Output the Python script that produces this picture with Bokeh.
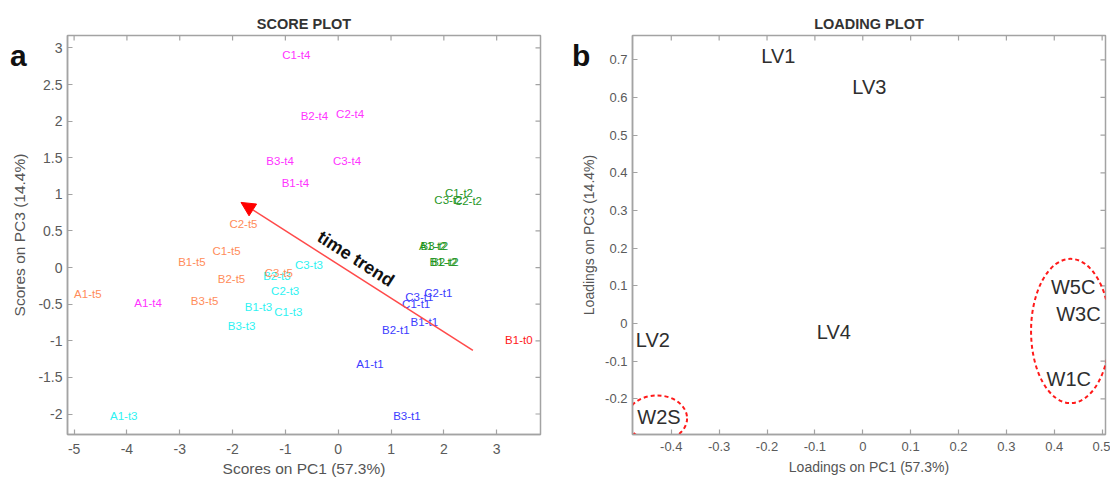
import math
from bokeh.plotting import figure
from bokeh.layouts import row
from bokeh.models import (ColumnDataSource, Label, Div, FixedTicker,
                          Arrow, NormalHead, Range1d)
from bokeh.core.properties import value
from bokeh.embed import file_html
from bokeh.resources import INLINE

FONT = "Liberation Sans"

# ---------------- data: score plot ----------------
score_labels = [
    "B1-t0",
    "A1-t1", "B1-t1", "B2-t1", "B3-t1", "C1-t1", "C2-t1", "C3-t1",
    "A1-t2", "B1-t2", "B2-t2", "B3-t2", "C1-t2", "C2-t2", "C3-t2",
    "A1-t3", "B1-t3", "B2-t3", "B3-t3", "C1-t3", "C2-t3", "C3-t3",
    "A1-t4", "B1-t4", "B2-t4", "B3-t4", "C1-t4", "C2-t4", "C3-t4",
    "A1-t5", "B1-t5", "B2-t5", "B3-t5", "C1-t5", "C2-t5", "C3-t5",
]
score_pc1 = [
    3.16,
    0.34, 1.37, 0.83, 1.04, 1.21, 1.63, 1.27,
    1.53, 1.73, 1.76, 1.56, 2.02, 2.19, 1.82,
    -4.32, -1.77, -1.42, -2.09, -1.21, -1.27, -0.82,
    -3.86, -1.07, -0.71, -1.36, -1.06, -0.04, -0.10,
    -5.00, -3.03, -2.28, -2.79, -2.38, -2.06, -1.39,
]
score_pc3 = [
    -0.99,
    -1.32, -0.74, -0.85, -2.03, -0.50, -0.35, -0.40,
    0.30, 0.08, 0.08, 0.30, 1.02, 0.91, 0.92,
    -2.03, -0.54, -0.11, -0.80, -0.60, -0.32, 0.04,
    -0.48, 1.16, 2.07, 1.46, 2.91, 2.10, 1.46,
    -0.36, 0.08, -0.15, -0.45, 0.23, 0.60, -0.07,
]
time_colors = {"t0": "#ff1a1a", "t1": "#3c3cff", "t2": "#1f961f",
               "t3": "#2ef2f2", "t4": "#ff33ff", "t5": "#ff8c5a"}
score_xticks = [-5, -4, -3, -2, -1, 0, 1, 2, 3]
score_xticklabels = ["-5", "-4", "-3", "-2", "-1", "0", "1", "2", "3"]
score_yticks = [-2, -1.5, -1, -0.5, 0, 0.5, 1, 1.5, 2, 2.5, 3]
score_yticklabels = ["-2", "-1.5", "-1", "-0.5", "0", "0.5", "1", "1.5", "2", "2.5", "3"]
trend_x = [2.55, -1.84]
trend_y = [-1.13, 0.89]
trend_text_pos = [0.335, 0.12]

# ---------------- data: loading plot ----------------
loading_labels = ["LV1", "LV3", "LV2", "LV4", "W5C", "W3C", "W1C", "W2S"]
loading_pc1 = [-0.212, -0.022, -0.474, -0.096, 0.393, 0.404, 0.384, -0.471]
loading_pc3 = [0.711, 0.629, -0.045, -0.023, 0.098, 0.026, -0.147, -0.249]
ellipse_x = [0.434, -0.430]
ellipse_y = [-0.020, -0.252]
ellipse_w = [0.165, 0.126]
ellipse_h = [0.383, 0.122]
load_xticks = [-0.4, -0.3, -0.2, -0.1, 0, 0.1, 0.2, 0.3, 0.4, 0.5]
load_xticklabels = ["-0.4", "-0.3", "-0.2", "-0.1", "0", "0.1", "0.2", "0.3", "0.4", "0.5"]
load_yticks = [-0.2, -0.1, 0, 0.1, 0.2, 0.3, 0.4, 0.5, 0.6, 0.7]
load_yticklabels = ["-0.2", "-0.1", "0", "0.1", "0.2", "0.3", "0.4", "0.5", "0.6", "0.7"]

FRAME_COL = "#a3a3a3"
TICK_COL = "#5a5a5a"
LABEL_COL = "#555555"


def style_axes(p, xr, yr, xticks, xlabels, yticks, ylabels, fs, xstand, ystand,
               xtitle, ytitle, tfs, xlstand, ylstand, title):
    p.xaxis.ticker = FixedTicker(ticks=xticks)
    p.yaxis.ticker = FixedTicker(ticks=yticks)
    p.xaxis.major_label_overrides = dict(zip(xticks, xlabels))
    p.yaxis.major_label_overrides = dict(zip(yticks, ylabels))
    for ax in (p.xaxis[0], p.yaxis[0]):
        ax.major_tick_in = 5
        ax.major_tick_out = 0
        ax.minor_tick_line_color = None
        ax.major_tick_line_color = FRAME_COL
        ax.major_tick_line_width = 1.2
        ax.axis_line_color = FRAME_COL
        ax.axis_line_width = 1.5
        ax.major_label_text_font = FONT
        ax.major_label_text_font_size = fs
        ax.major_label_text_color = TICK_COL
        ax.axis_label_text_font = FONT
        ax.axis_label_text_font_size = tfs
        ax.axis_label_text_font_style = "normal"
        ax.axis_label_text_color = LABEL_COL
    p.xaxis.major_label_standoff = xstand
    p.yaxis.major_label_standoff = ystand
    p.xaxis.axis_label = xtitle
    p.yaxis.axis_label = ytitle
    p.xaxis.axis_label_standoff = xlstand
    p.yaxis.axis_label_standoff = ylstand
    # mirrored inward ticks on top and right edges (box on)
    p.ray(x=xticks, y=[yr.end] * len(xticks), length=5, length_units="screen",
          angle=-math.pi / 2, line_color=FRAME_COL, line_width=1.2)
    p.ray(x=[xr.end] * len(yticks), y=yticks, length=5, length_units="screen",
          angle=math.pi, line_color=FRAME_COL, line_width=1.2)
    p.grid.visible = False
    p.outline_line_color = FRAME_COL
    p.outline_line_width = 1.5
    p.title.text = title
    p.title.align = "center"
    p.title.text_font = FONT
    p.title.text_font_size = "14.5px"
    p.title.text_font_style = "bold"
    p.title.text_color = "#333333"
    p.title.standoff = 7


def panel_letter(text, left, top):
    return Div(text=text, width=20, height=36,
               styles={"position": "absolute", "left": f"{left}px", "top": f"{top}px",
                       "font-family": FONT, "font-size": "30px", "font-weight": "bold",
                       "color": "#111111", "line-height": "normal", "z-index": "10",
                       "margin": "0", "padding": "0"})


# ---------------- score plot ----------------
x1 = Range1d(-5.125, 3.83)
y1 = Range1d(-2.28, 3.17)
p1 = figure(width=556, height=482, x_range=x1, y_range=y1, output_backend="svg",
            toolbar_location=None, min_border_left=67, min_border_right=16,
            min_border_top=34, min_border_bottom=47)
style_axes(p1, x1, y1, score_xticks, score_xticklabels, score_yticks, score_yticklabels,
           "14px", 9, 5, "Scores on PC1 (57.3%)", "Scores on PC3 (14.4%)", "15.5px",
           3, 7, "SCORE PLOT")

cols = [time_colors[s.split("-")[1]] for s in score_labels]
src1 = ColumnDataSource(dict(x=score_pc1, y=score_pc3, t=score_labels, c=cols))
p1.text(x="x", y="y", text="t", text_color="c", source=src1,
        text_font=value(FONT), text_font_size="11.5px",
        text_align="left", text_baseline="middle")

p1.add_layout(Arrow(end=NormalHead(size=14, fill_color="#ff0000", line_color="#ff0000"),
                    x_start=trend_x[0], y_start=trend_y[0],
                    x_end=trend_x[1], y_end=trend_y[1],
                    line_color="#ff4a4a", line_width=1.5))

fw1, fh1 = 473, 401
px_x = fw1 / (x1.end - x1.start)
px_y = fh1 / (y1.end - y1.start)
ang = math.atan2((trend_y[0] - trend_y[1]) * px_y, (trend_x[0] - trend_x[1]) * px_x)
p1.add_layout(Label(x=trend_text_pos[0], y=trend_text_pos[1], text="time trend",
                    text_font=FONT, text_font_size="18px", text_font_style="bold",
                    text_color="#111111", text_align="center", text_baseline="middle",
                    angle=ang))

# ---------------- loading plot ----------------
x2 = Range1d(-0.481, 0.507)
y2 = Range1d(-0.2948, 0.7645)
p2 = figure(width=554, height=482, x_range=x2, y_range=y2, output_backend="svg",
            toolbar_location=None, min_border_left=76, min_border_right=5,
            min_border_top=35, min_border_bottom=48)
style_axes(p2, x2, y2, load_xticks, load_xticklabels, load_yticks, load_yticklabels,
           "13px", 7, 5, "Loadings on PC1 (57.3%)", "Loadings on PC3 (14.4%)", "14px",
           5, 5, "LOADING PLOT")

src2 = ColumnDataSource(dict(x=loading_pc1, y=loading_pc3, t=loading_labels))
p2.text(x="x", y="y", text="t", source=src2, text_color="#2e2e2e",
        text_font=value(FONT), text_font_size="20px",
        text_align="left", text_baseline="middle")

src3 = ColumnDataSource(dict(x=ellipse_x, y=ellipse_y, w=ellipse_w, h=ellipse_h))
p2.ellipse(x="x", y="y", width="w", height="h", source=src3, fill_color=None,
           line_color="#ff1a1a", line_width=2, line_dash="4 3")

layout = row(p1, p2, panel_letter("a", 10, 39), panel_letter("b", 572, 39))
open("out.html", "w").write(file_html(layout, INLINE))
